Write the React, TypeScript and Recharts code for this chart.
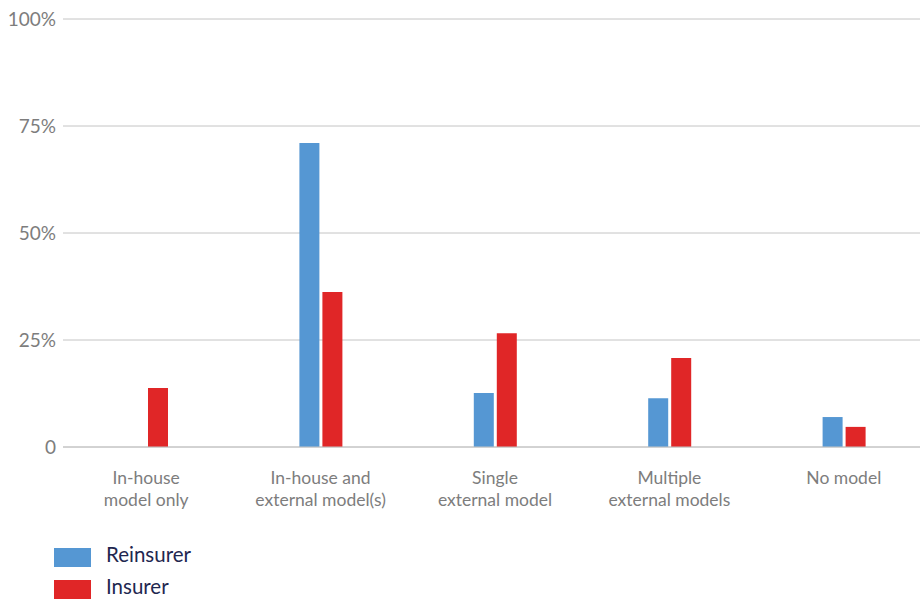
import { Bar, BarChart, CartesianGrid, Legend, XAxis, YAxis } from "recharts";

const categories = [
  "In-house\nmodel only",
  "In-house and\nexternal model(s)",
  "Single\nexternal model",
  "Multiple\nexternal models",
  "No model",
];
const reinsurer = [0, 71, 12.6, 11.4, 7];
const insurer = [13.8, 36.2, 26.6, 20.8, 4.7];
const yTicks = [0, 25, 50, 75, 100];

const BLUE = "#5597d3";
const RED = "#e02627";
const FONT = "Lato, 'Open Sans', sans-serif";

const data = categories.map((name, i) => ({
  name,
  reinsurer: reinsurer[i],
  insurer: insurer[i],
}));

const CategoryTick = (props: any) => {
  const { x, y, payload } = props;
  const lines = String(payload.value).split("\n");
  return (
    <text x={x} y={y} textAnchor="middle" fill="#7d7d7d" fontSize={17.5} fontFamily={FONT}>
      {lines.map((l, i) => (
        <tspan key={i} x={x} dy={i === 0 ? 37 : 22}>
          {l}
        </tspan>
      ))}
    </text>
  );
};

const LegendBox = () => {
  const items = [
    { label: "Reinsurer", color: BLUE },
    { label: "Insurer", color: RED },
  ];
  return (
    <div style={{ height: 60, paddingTop: 8, paddingLeft: 54, boxSizing: "border-box", fontFamily: FONT }}>
      {items.map((it, i) => (
        <div
          key={it.label}
          style={{ display: "flex", alignItems: "center", height: 19, marginTop: i === 0 ? 0 : 13 }}
        >
          <div style={{ width: 37, height: 19, background: it.color }} />
          <span
            style={{
              marginLeft: 15,
              fontSize: 20.5,
              color: "#1f2750",
              lineHeight: "19px",
              position: "relative",
              top: -3,
            }}
          >
            {it.label}
          </span>
        </div>
      ))}
    </div>
  );
};

export default function App() {
  return (
    <div style={{ position: "absolute", left: 0, top: 0, background: "#fff" }}>
      <BarChart
        width={920}
        height={600}
        data={data}
        margin={{ top: 19, right: 0, bottom: 0, left: 0 }}
        barSize={20}
        barGap={3}
      >
        <CartesianGrid vertical={false} stroke="#c4c4c4" strokeWidth={1} />
        <XAxis
          dataKey="name"
          interval={0}
          height={93}
          padding={{ left: -4, right: -11 }}
          axisLine={{ stroke: "#c4c4c4" }}
          tickLine={false}
          tickSize={0}
          tickMargin={0}
          tick={<CategoryTick />}
        />
        <YAxis
          width={63}
          domain={[0, 100]}
          ticks={yTicks}
          tickFormatter={(v: number) => (v === 0 ? "0" : `${v}%`)}
          axisLine={false}
          tickLine={false}
          tickSize={0}
          tickMargin={7}
          tick={{ fill: "#7d7d7d", fontSize: 19, fontFamily: FONT }}
        />
        <Legend verticalAlign="bottom" align="left" layout="horizontal" content={<LegendBox />} />
        <Bar dataKey="reinsurer" name="Reinsurer" fill={BLUE} isAnimationActive={false} />
        <Bar dataKey="insurer" name="Insurer" fill={RED} isAnimationActive={false} />
      </BarChart>
    </div>
  );
}
